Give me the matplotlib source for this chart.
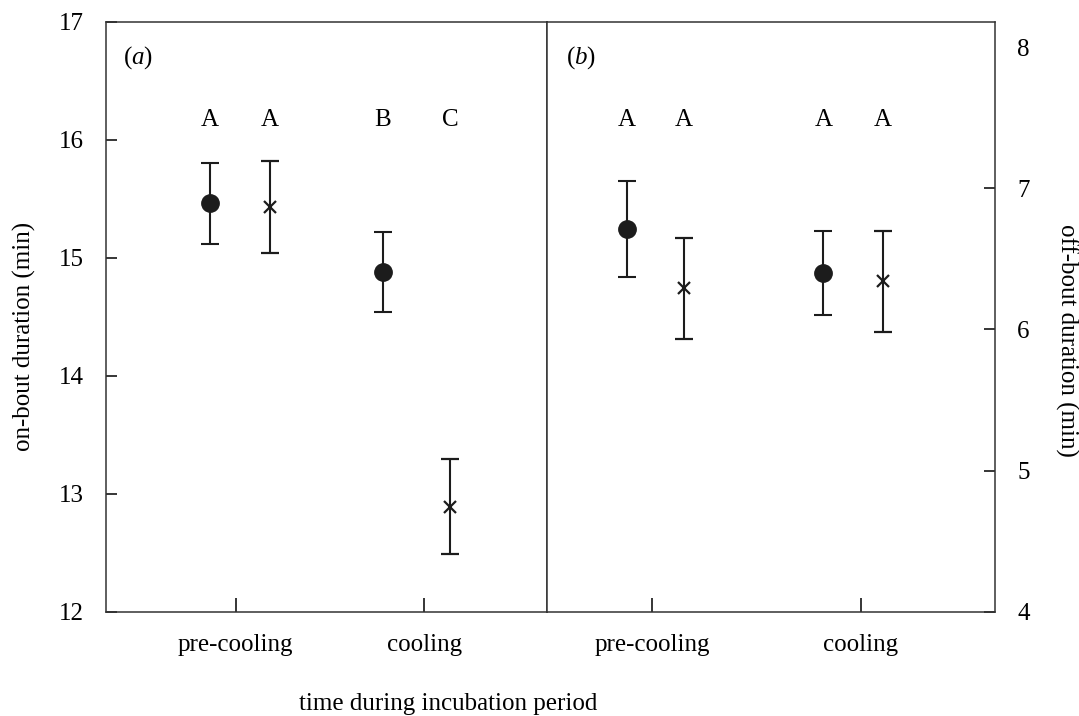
import matplotlib.pyplot as plt

plt.rcParams['font.family'] = ['Liberation Serif', 'DejaVu Serif']
plt.rcParams['mathtext.fontset'] = 'custom'
plt.rcParams['mathtext.rm'] = 'Liberation Serif'
plt.rcParams['mathtext.it'] = 'Liberation Serif:italic'

# periods on the x axis
periods = ['pre-cooling', 'cooling']

# (a) on-bout duration (min): circles and crosses, mean and error
on_circle_mean = [15.46, 14.88]
on_circle_err = [0.34, 0.34]
on_cross_mean = [15.43, 12.89]
on_cross_err = [0.39, 0.40]
on_letters_circle = ['A', 'B']
on_letters_cross = ['A', 'C']

# (b) off-bout duration (min)
off_circle_mean = [6.71, 6.40]
off_circle_err = [0.34, 0.30]
off_cross_mean = [6.29, 6.34]
off_cross_err = [0.36, 0.36]
off_letters_circle = ['A', 'A']
off_letters_cross = ['A', 'A']

# layout: horizontal offsets of the two groups around each tick
left_offsets = ([-0.136, -0.222], [0.182, 0.135])
right_offsets = ([-0.121, -0.179], [0.153, 0.108])

ink = '#1c1c1c'
FS = 18
fig = plt.figure(figsize=(10.79, 7.16), dpi=100)
ax1 = fig.add_axes([106 / 1079, 1 - 611.7 / 716, 441 / 1079, 590 / 716])
ax2 = fig.add_axes([547 / 1079, 1 - 611.7 / 716, 448 / 1079, 590 / 716])

ticks = [1, 2]


def draw_panel(ax, c_mean, c_err, x_mean, x_err, c_let, x_let, offsets, tag, tag_x):
    xc = [t + o for t, o in zip(ticks, offsets[0])]
    xx = [t + o for t, o in zip(ticks, offsets[1])]
    ax.errorbar(xc, c_mean, yerr=c_err, fmt='o', color=ink, ms=12.5,
                elinewidth=1.5, capsize=6.5, capthick=1.5)
    ax.errorbar(xx, x_mean, yerr=x_err, fmt='x', color=ink, ms=8,
                mew=1.6, elinewidth=1.5, capsize=6.5, capthick=1.5)
    for x, s in zip(xc + xx, c_let + x_let):
        ax.text(x, 0.834, s, transform=ax.get_xaxis_transform(),
                ha='center', va='center', fontsize=FS)
    ax.text(tag_x, 0.94, '($\\mathit{' + tag + '}$)', transform=ax.transAxes,
            ha='left', va='center', fontsize=FS)
    ax.set_xticks(ticks)
    ax.set_xticklabels(periods)
    for sp in ax.spines.values():
        sp.set_linewidth(1.1)
        sp.set_color('#333333')


draw_panel(ax1, on_circle_mean, on_circle_err, on_cross_mean, on_cross_err,
           on_letters_circle, on_letters_cross, left_offsets, 'a', 0.039)
draw_panel(ax2, off_circle_mean, off_circle_err, off_cross_mean, off_cross_err,
           off_letters_circle, off_letters_cross, right_offsets, 'b', 0.043)

ax1.set_xlim(0.313, 2.649)
ax1.set_ylim(12, 17)
ax1.set_yticks([12, 13, 14, 15, 16, 17])
ax1.tick_params(axis='y', direction='in', length=8, width=1.1, pad=16, labelsize=FS, right=False)
ax1.tick_params(axis='x', direction='in', length=10, width=1.1, pad=16, labelsize=FS)

ax2.set_xlim(0.497, 2.644)
ax2.set_ylim(4, 8.18)
ax2.set_yticks([4, 5, 6, 7, 8])
ax2.yaxis.tick_right()
ax2.tick_params(axis='y', direction='in', length=8, width=1.1, pad=16, labelsize=FS, left=False)
ax2.tick_params(axis='x', direction='in', length=10, width=1.1, pad=16, labelsize=FS)
ax2.yaxis.get_major_ticks()[-1].tick2line.set_visible(False)

fig.text(24 / 1079, 1 - 336 / 716, 'on-bout duration (min)', rotation=90,
         ha='center', va='center', fontsize=FS)
fig.text(1067 / 1079, 1 - 340 / 716, 'off-bout duration (min)', rotation=270,
         ha='center', va='center', fontsize=FS)
fig.text(448 / 1079, 1 - 704 / 716, 'time during incubation period',
         ha='center', va='center', fontsize=FS)

fig.savefig('out.png', dpi=100)
